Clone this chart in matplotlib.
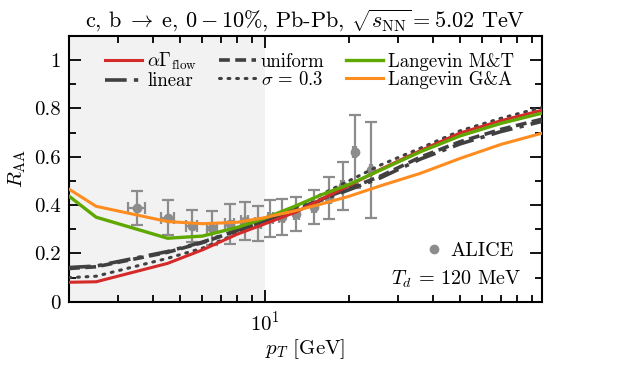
import numpy as np
import matplotlib
matplotlib.use("Agg")
import matplotlib.pyplot as plt
from matplotlib.lines import Line2D

plt.rcParams['font.family'] = 'serif'
plt.rcParams['font.serif'] = ['cmr10']
plt.rcParams['mathtext.fontset'] = 'cm'
plt.rcParams['axes.formatter.use_mathtext'] = True

# ALICE data
alice_pt = [3.5, 4.5, 5.5, 6.5, 7.5, 8.5, 9.5, 10.5, 11.5, 13, 15, 17, 19, 21, 24]
alice_raa = [0.389, 0.348, 0.314, 0.305, 0.322, 0.334, 0.324, 0.346, 0.350, 0.362, 0.392, 0.429, 0.479, 0.621, 0.545]
alice_err = [0.070, 0.072, 0.065, 0.070, 0.081, 0.078, 0.074, 0.077, 0.074, 0.071, 0.072, 0.086, 0.101, 0.152, 0.200]
alice_xerr = [0.25] * len(alice_pt)

# model curves
pt_grid = [2, 2.5, 4.5, 6, 8, 10, 13, 16, 20, 26, 36, 50, 70, 98]
raa_flow = [0.081, 0.083, 0.159, 0.215, 0.280, 0.322, 0.372, 0.425, 0.480, 0.548, 0.625, 0.698, 0.749, 0.792]
raa_uniform = [0.138, 0.145, 0.205, 0.245, 0.295, 0.335, 0.382, 0.425, 0.468, 0.520, 0.598, 0.662, 0.713, 0.755]
raa_linear = [0.142, 0.148, 0.208, 0.247, 0.296, 0.335, 0.380, 0.421, 0.463, 0.513, 0.590, 0.653, 0.704, 0.746]
raa_sigma = [0.100, 0.106, 0.180, 0.222, 0.283, 0.332, 0.392, 0.445, 0.500, 0.566, 0.635, 0.707, 0.759, 0.804]
raa_mt = [0.437, 0.350, 0.263, 0.272, 0.308, 0.345, 0.398, 0.443, 0.485, 0.545, 0.620, 0.686, 0.738, 0.780]
raa_ga = [0.466, 0.395, 0.332, 0.323, 0.329, 0.348, 0.378, 0.405, 0.436, 0.480, 0.531, 0.593, 0.651, 0.697]

fig = plt.figure(figsize=(6.39, 3.65), dpi=100)
ax = fig.add_axes([0.108, 0.173, 0.740, 0.729])

ax.axvspan(2, 10, color='#f2f2f2', zorder=0, lw=0)

ax.errorbar(alice_pt, alice_raa, yerr=alice_err, xerr=alice_xerr, fmt='o', color='#8c8c8c',
            ms=6, elinewidth=1.6, capsize=4.5, capthick=1.6, zorder=2)

dark = '#404040'
l_flow, = ax.plot(pt_grid, raa_flow, color='#d42a2a', lw=2.2, zorder=4, label=r'$\alpha\Gamma_{\rm flow}$')
l_lin, = ax.plot(pt_grid, raa_linear, color=dark, lw=2.6, dashes=(6, 2, 1.2, 2), zorder=3, label='linear')
l_uni, = ax.plot(pt_grid, raa_uniform, color=dark, lw=2.6, dashes=(3, 1.5), zorder=3, label='uniform')
l_sig, = ax.plot(pt_grid, raa_sigma, color=dark, lw=2.2, dashes=(0.6, 2.2), dash_capstyle='round', zorder=3, label=r'$\sigma\,=\,0.3$')
l_mt, = ax.plot(pt_grid, raa_mt, color='#5fa800', lw=2.4, zorder=4, label='Langevin M&T')
l_ga, = ax.plot(pt_grid, raa_ga, color='#ff8c1f', lw=2.2, zorder=4, label='Langevin G&A')

ax.set_xscale('log')
ax.set_xlim(2, 98)
ax.set_ylim(0, 1.1)
ax.set_yticks([0, 0.2, 0.4, 0.6, 0.8, 1.0])
ax.set_yticklabels(['0', '0.2', '0.4', '0.6', '0.8', '1'])
ax.set_yticks(np.arange(0.1, 1.1, 0.2), minor=True)
ax.tick_params(which='both', direction='in', top=True, right=True, labelsize=15, width=1.3)
ax.tick_params(which='major', length=8.5, pad=6)
ax.tick_params(which='minor', length=5)
for s in ax.spines.values():
    s.set_linewidth(1.5)

ax.set_xlabel(r'$p_T$ [GeV]', fontsize=15, labelpad=2)
ax.set_ylabel(r'$R_{\rm AA}$', fontsize=15, labelpad=4)
ax.set_title(r'c, b$\;\rightarrow\;$e, $0-10\%$, Pb-Pb, $\sqrt{s_{\rm NN}}=5.02$ TeV', fontsize=16, pad=6)

leg = ax.legend(handles=[l_flow, l_lin, l_uni, l_sig, l_mt, l_ga], ncol=3, loc='upper left',
                bbox_to_anchor=(0.052, 0.985), frameon=False, fontsize=13.5, handlelength=2.0,
                handletextpad=0.25, columnspacing=1.15, labelspacing=0.0, borderaxespad=0.2)
ax.add_artist(leg)

alice_h = Line2D([], [], marker='o', ls='none', color='#8c8c8c', ms=6)
ax.legend(handles=[alice_h], labels=['ALICE'], loc='center right', bbox_to_anchor=(0.957, 0.19),
          frameon=False, fontsize=14.5, handlelength=0.8, handletextpad=0.4, borderaxespad=0)
ax.text(0.957, 0.085, r'$T_d$ = 120 MeV', transform=ax.transAxes, ha='right', va='center', fontsize=14.5)

fig.savefig('out.png', dpi=100)
